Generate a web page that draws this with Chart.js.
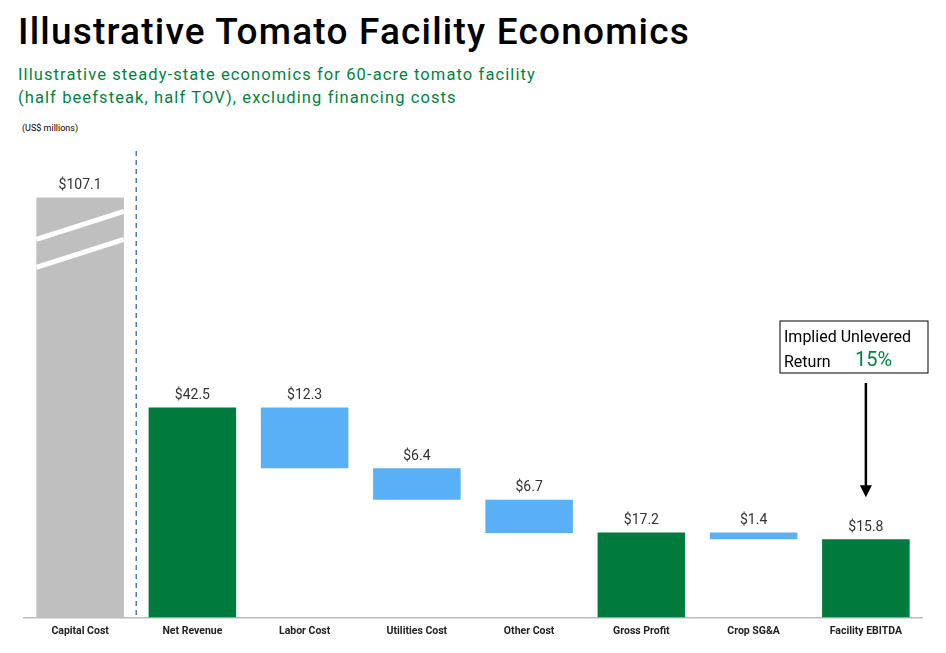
<!DOCTYPE html>
<html>
<head>
<meta charset="utf-8">
<script src="https://cdn.jsdelivr.net/npm/chart.js@4"></script>
<style>
  body { margin: 0; background: #fff; font-family: Roboto, "Liberation Sans", sans-serif; }
  h1 { position: absolute; left: 18px; top: 10px; margin: 0; font-size: 37px; font-weight: 500; color: #000; letter-spacing: 1.2px; }
  .sub { position: absolute; left: 18px; top: 63px; font-size: 16.5px; color: #00843d; line-height: 23px; letter-spacing: 1.1px; }
  .units { position: absolute; left: 22px; top: 123px; font-size: 9px; color: #000; }
  #wrap { position: absolute; left: 0; top: 140px; width: 946px; height: 513px; }
</style>
</head>
<body>
<h1>Illustrative Tomato Facility Economics</h1>
<div class="sub">Illustrative steady-state economics for 60-acre tomato facility<br>(half beefsteak, half TOV), excluding financing costs</div>
<div class="units">(US$ millions)</div>
<div id="wrap"><canvas id="myChart"></canvas></div>
<script>
let categories = ["Capital Cost", "Net Revenue", "Labor Cost", "Utilities Cost", "Other Cost", "Gross Profit", "Crop SG&A", "Facility EBITDA"];
let values = [107.1, 42.5, 12.3, 6.4, 6.7, 17.2, 1.4, 15.8];
let barLows = [0, 0, 30.2, 23.8, 17.1, 0, 15.8, 0];
let barHighs = [85, 42.5, 42.5, 30.2, 23.8, 17.2, 17.2, 15.8];
let valueLabels = ["$107.1", "$42.5", "$12.3", "$6.4", "$6.7", "$17.2", "$1.4", "$15.8"];
let barColors = ['#bfbfbf', '#007a3d', '#5ab0f6', '#5ab0f6', '#5ab0f6', '#007a3d', '#5ab0f6', '#007a3d'];

let extras = {
    id: 'extras',
    afterDatasetsDraw(chart) {
        let ctx = chart.ctx;
        let meta = chart.getDatasetMeta(0);
        let area = chart.chartArea;
        ctx.save();
        // value labels
        ctx.fillStyle = '#333';
        ctx.font = '14px Roboto';
        ctx.textAlign = 'center';
        ctx.textBaseline = 'bottom';
        meta.data.forEach((bar, i) => {
            ctx.fillText(valueLabels[i], bar.x, bar.y - 5);
        });
        // break marks on capital bar
        let cap = meta.data[0];
        let half = cap.width / 2;
        ctx.strokeStyle = '#fff';
        ctx.lineWidth = 5;
        [[cap.y + 42, cap.y + 14], [cap.y + 70, cap.y + 42]].forEach(p => {
            ctx.beginPath();
            ctx.moveTo(cap.x - half, p[0]);
            ctx.lineTo(cap.x + half, p[1]);
            ctx.stroke();
        });
        // dashed separator
        let sx = (meta.data[0].x + meta.data[1].x) / 2;
        ctx.strokeStyle = '#4a7fb5';
        ctx.lineWidth = 1.5;
        ctx.setLineDash([5, 4]);
        ctx.beginPath();
        ctx.moveTo(sx, area.top + 3);
        ctx.lineTo(sx, area.bottom);
        ctx.stroke();
        ctx.setLineDash([]);
        // annotation box
        let e = meta.data[7];
        let bx = 780, by = 321 - 140, bw = 148, bh = 52;
        ctx.strokeStyle = '#000';
        ctx.lineWidth = 1;
        ctx.strokeRect(bx, by, bw, bh);
        ctx.fillStyle = '#000';
        ctx.textAlign = 'left';
        ctx.textBaseline = 'alphabetic';
        ctx.font = '16px Roboto';
        ctx.fillText('Implied Unlevered', bx + 4, by + 21);
        ctx.fillText('Return', bx + 4, by + 46);
        ctx.fillStyle = '#00843d';
        ctx.font = '20px Roboto';
        ctx.fillText('15%', bx + 75, by + 45);
        // arrow
        ctx.fillStyle = '#000';
        ctx.strokeStyle = '#000';
        ctx.lineWidth = 2.5;
        ctx.beginPath();
        ctx.moveTo(e.x, by + bh + 10);
        ctx.lineTo(e.x, e.y - 52);
        ctx.stroke();
        ctx.beginPath();
        ctx.moveTo(e.x - 6, e.y - 54);
        ctx.lineTo(e.x + 6, e.y - 54);
        ctx.lineTo(e.x, e.y - 42);
        ctx.closePath();
        ctx.fill();
        ctx.restore();
    }
};

new Chart(document.getElementById("myChart").getContext("2d"), {
    type: "bar",
    data: {
        labels: categories,
        datasets: [{
            data: barLows.map((lo, i) => [lo, barHighs[i]]),
            backgroundColor: barColors,
            borderWidth: 0,
            categoryPercentage: 1,
            barPercentage: 0.78
        }]
    },
    options: {
        responsive: true,
        maintainAspectRatio: false,
        animation: false,
        layout: { padding: { left: 24, right: 24, top: 8, bottom: 7 } },
        plugins: { legend: { display: false }, tooltip: { enabled: false } },
        scales: {
            y: {
                display: false,
                min: 0,
                max: 95
            },
            x: {
                grid: { display: false, drawTicks: false },
                border: { color: '#bbb', width: 1.5 },
                ticks: {
                    color: '#222',
                    padding: 8,
                    font: { family: 'Roboto', size: 10.5, weight: 'bold' }
                }
            }
        }
    },
    plugins: [extras]
});
</script>
</body>
</html>
